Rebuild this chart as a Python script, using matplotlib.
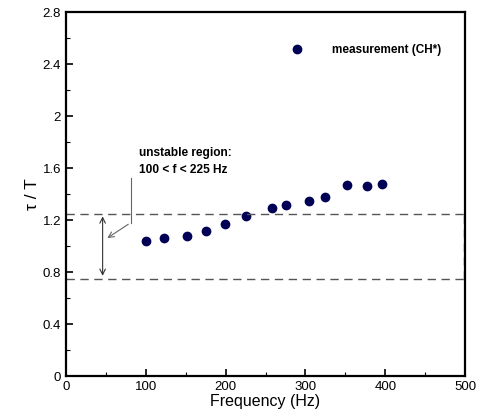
import numpy as np
import matplotlib.pyplot as plt
from matplotlib.ticker import MultipleLocator, FuncFormatter

plt.rcParams['font.family'] = ['Liberation Sans', 'DejaVu Sans']

freq = np.array([100, 123, 152, 176, 199, 226, 258, 276, 304, 325, 352, 377, 396])
tau_T = np.array([1.04, 1.06, 1.08, 1.12, 1.17, 1.23, 1.29, 1.32, 1.35, 1.38, 1.47, 1.46, 1.48])

band_lo = 0.75
band_hi = 1.25

fig = plt.figure(figsize=(4.81, 4.17), dpi=100)
ax = fig.add_axes([0.137, 0.098, 0.830, 0.873])

ax.plot(freq, tau_T, 'o', color='#000055', markersize=6, label='measurement (CH*)')

# unstable band
ax.axhline(band_hi, color='#555555', lw=1.0, ls=(0, (6, 4)))
ax.axhline(band_lo, color='#555555', lw=1.0, ls=(0, (6, 4)))
ax.plot([498, 498], [band_lo, band_hi], color='#555555', lw=1.0, ls=(0, (6, 4)))

# double arrow showing the band
ax.annotate('', xy=(46, band_hi), xytext=(46, band_lo),
            arrowprops=dict(arrowstyle='<->', color='#333333', lw=0.8))

# label with leader line
ax.text(91, 1.72, 'unstable region:', fontsize=8.6, fontweight='bold', va='center')
ax.text(91, 1.585, '100 < f < 225 Hz', fontsize=8.6, fontweight='bold', va='center')
ax.plot([81, 81], [1.525, 1.18], color='#666666', lw=0.8)
ax.annotate('', xy=(49, 1.05), xytext=(81, 1.18),
            arrowprops=dict(arrowstyle='->', color='#666666', lw=0.8))

ax.set_xlim(0, 500)
ax.set_ylim(0, 2.8)
ax.xaxis.set_major_locator(MultipleLocator(100))
ax.xaxis.set_minor_locator(MultipleLocator(50))
ax.yaxis.set_major_locator(MultipleLocator(0.4))
ax.yaxis.set_minor_locator(MultipleLocator(0.2))
ax.yaxis.set_major_formatter(FuncFormatter(lambda v, p: f'{v:g}'))
ax.tick_params(which='both', direction='in', top=False, right=False, labelsize=9.5)
ax.tick_params(which='major', length=5, width=1.2)
ax.tick_params(which='minor', length=3, width=0.8)
for s in ax.spines.values():
    s.set_linewidth(1.6)

ax.set_xlabel('Frequency (Hz)', fontsize=11.5, labelpad=1)
ax.set_ylabel('τ / T', fontsize=12.5, labelpad=2)

leg = ax.legend(loc='center left', bbox_to_anchor=(0.564, 0.896), frameon=False,
                prop={'size': 8.5, 'weight': 'bold'}, handlelength=1,
                handletextpad=2.5, borderpad=0, borderaxespad=0)

fig.savefig('out.png', dpi=100)
